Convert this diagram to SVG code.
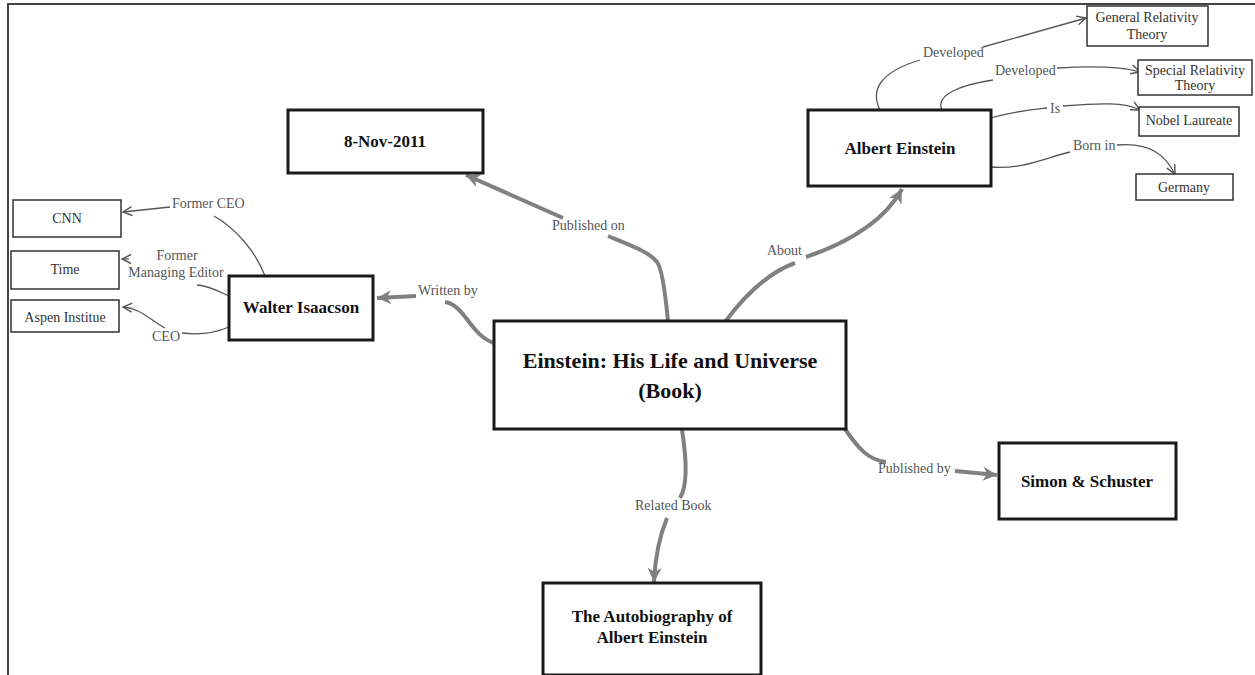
<svg xmlns="http://www.w3.org/2000/svg" width="1255" height="675" viewBox="0 0 1255 675">
<defs>
<style>
.big{fill:#fff;stroke:#1a1a1a;stroke-width:3}
.sm{fill:#fff;stroke:#333;stroke-width:1.5}
.t{font-family:"Liberation Serif","Times New Roman",serif;text-anchor:middle}
.tb{font-weight:bold;font-size:17px;fill:#111}
.tmain{font-weight:bold;font-size:22px;fill:#111}
.ts{font-size:14px;fill:#333}
.lbl{font-family:"Liberation Serif","Times New Roman",serif;font-size:14px;fill:#555}
.thick{fill:none;stroke:#808080;stroke-width:4}
.thin{fill:none;stroke:#555;stroke-width:1.3}
</style>
<marker id="ah" markerUnits="userSpaceOnUse" markerWidth="16" markerHeight="16" refX="14" refY="8" orient="auto">
<path d="M0,1 L14,8 L0,15 L4,8 Z" fill="#808080"/>
</marker>
<marker id="av" markerUnits="userSpaceOnUse" markerWidth="12" markerHeight="12" refX="10" refY="6" orient="auto">
<path d="M1,1.5 L10,6 L1,10.5" fill="none" stroke="#555" stroke-width="1.4"/>
</marker>
</defs>
<rect width="1255" height="675" fill="#fff"/>
<path d="M8,675 L8,4 L1255,4" fill="none" stroke="#444" stroke-width="2"/>

<g id="connectors">
<path class="thick" d="M494,343 C470,335 465,305 445,302"/>
<path class="thick" d="M416,296 L377,298" marker-end="url(#ah)"/>
<path class="thick" d="M668,321 C665,290 662,268 657,262 C650,252 625,243 608,236"/>
<path class="thick" d="M563,218 L466,175" marker-end="url(#ah)"/>
<path class="thick" d="M725,322 C745,295 770,272 795,263"/>
<path class="thick" d="M806,257 C850,242 885,220 902,189" marker-end="url(#ah)"/>
<path class="thick" d="M845,429 C858,448 868,460 886,462"/>
<path class="thick" d="M955,471 L997,475" marker-end="url(#ah)"/>
<path class="thick" d="M682,430 C686,455 688,485 680,498"/>
<path class="thick" d="M667,518 C660,535 655,560 654,582" marker-end="url(#ah)"/>

<path class="thin" d="M265,276 C255,250 235,228 214,216"/>
<path class="thin" d="M170,207 L123,212" marker-end="url(#av)"/>
<path class="thin" d="M229,296 C220,292 210,286 197,285"/>
<path class="thin" d="M129,259 L122,259" marker-end="url(#av)"/>
<path class="thin" d="M229,327 C215,333 198,335 182,333"/>
<path class="thin" d="M165,328 C150,320 140,308 123,307" marker-end="url(#av)"/>

<path class="thin" d="M880,110 C870,90 880,72 920,60"/>
<path class="thin" d="M983,47 L1086,18" marker-end="url(#av)"/>
<path class="thin" d="M942,110 C935,95 960,85 993,80"/>
<path class="thin" d="M1057,68 C1090,66 1120,66 1140,72" marker-end="url(#av)"/>
<path class="thin" d="M991,118 C1010,112 1030,110 1047,108"/>
<path class="thin" d="M1063,106 C1100,103 1125,102 1140,110" marker-end="url(#av)"/>
<path class="thin" d="M991,167 C1020,170 1045,158 1070,152"/>
<path class="thin" d="M1117,145 C1150,142 1165,155 1175,174" marker-end="url(#av)"/>

<text class="lbl" x="418" y="295">Written by</text>
<text class="lbl" x="552" y="230">Published on</text>
<text class="lbl" x="767" y="255">About</text>
<text class="lbl" x="878" y="473">Published by</text>
<text class="lbl" x="635" y="510">Related Book</text>
<text class="lbl" x="172" y="208">Former CEO</text>
<text class="lbl" x="177" y="260" text-anchor="middle">Former</text>
<text class="lbl" x="176" y="277" text-anchor="middle">Managing Editor</text>
<text class="lbl" x="152" y="341">CEO</text>
<text class="lbl" x="923" y="57">Developed</text>
<text class="lbl" x="995" y="75">Developed</text>
<text class="lbl" x="1050" y="113">Is</text>
<text class="lbl" x="1073" y="150">Born in</text>
</g>

<g id="book">
<rect class="big" x="494" y="321" width="352" height="108"/>
<text class="t tmain" x="670" y="368">Einstein: His Life and Universe</text>
<text class="t tmain" x="670" y="398">(Book)</text>
</g>
<g id="date">
<rect class="big" x="288" y="110" width="195" height="63"/>
<text class="t tb" x="385" y="147">8-Nov-2011</text>
</g>
<g id="walter">
<rect class="big" x="229" y="276" width="144" height="64"/>
<text class="t tb" x="301" y="313">Walter Isaacson</text>
</g>
<g id="albert">
<rect class="big" x="808" y="110" width="183" height="76"/>
<text class="t tb" x="900" y="154">Albert Einstein</text>
</g>
<g id="simon">
<rect class="big" x="999" y="443" width="177" height="76"/>
<text class="t tb" x="1087" y="487">Simon &amp; Schuster</text>
</g>
<g id="autobiography">
<rect class="big" x="543" y="583" width="218" height="92"/>
<text class="t tb" x="652" y="622">The Autobiography of</text>
<text class="t tb" x="652" y="643">Albert Einstein</text>
</g>
<g id="cnn">
<rect class="sm" x="13" y="200" width="108" height="37"/>
<text class="t ts" x="67" y="223">CNN</text>
</g>
<g id="time">
<rect class="sm" x="11" y="251" width="108" height="38"/>
<text class="t ts" x="65" y="274">Time</text>
</g>
<g id="aspen">
<rect class="sm" x="11" y="300" width="108" height="32"/>
<text class="t ts" x="65" y="322">Aspen Institue</text>
</g>
<g id="general">
<rect class="sm" x="1087" y="6" width="121" height="40"/>
<text class="t ts" x="1147" y="22">General Relativity</text>
<text class="t ts" x="1147" y="39">Theory</text>
</g>
<g id="special">
<rect class="sm" x="1138" y="60" width="114" height="35"/>
<text class="t ts" x="1195" y="75">Special Relativity</text>
<text class="t ts" x="1195" y="90">Theory</text>
</g>
<g id="nobel">
<rect class="sm" x="1139" y="107" width="100" height="29"/>
<text class="t ts" x="1189" y="125">Nobel Laureate</text>
</g>
<g id="germany">
<rect class="sm" x="1136" y="174" width="97" height="26"/>
<text class="t ts" x="1184" y="192">Germany</text>
</g>
</svg>
